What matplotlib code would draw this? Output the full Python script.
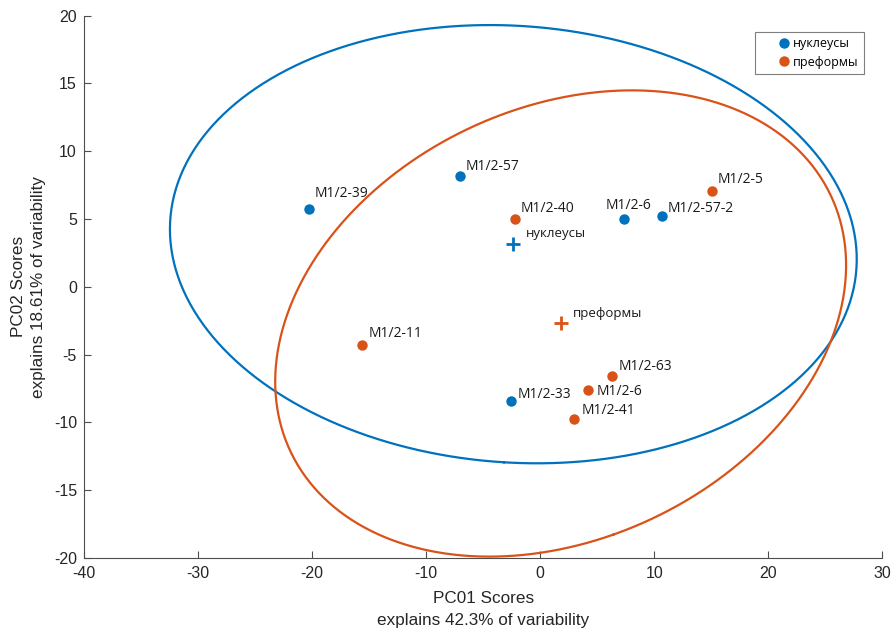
import numpy as np
import matplotlib
matplotlib.use("Agg")
import matplotlib.pyplot as plt

# -- Data (PC scores) ---------------------------------------------------------
nuc_names = ["M1/2-39", "M1/2-57", "M1/2-6", "M1/2-57-2", "M1/2-33"]
nuc_x = [-20.24, -7.0, 7.31, 10.7, -2.52]
nuc_y = [5.73, 8.19, 5.02, 5.24, -8.45]

pre_names = ["M1/2-5", "M1/2-40", "M1/2-11", "M1/2-63", "M1/2-6", "M1/2-41"]
pre_x = [15.11, -2.19, -15.59, 6.29, 4.21, 2.96]
pre_y = [7.06, 5.02, -4.32, -6.59, -7.64, -9.76]

group_labels = ["нуклеусы", "преформы"]
xticks = [-40, -30, -20, -10, 0, 10, 20, 30]
yticks = [-20, -15, -10, -5, 0, 5, 10, 15, 20]

# label placement (pixel offsets of text left/baseline from each point)
nuc_offs = [(5, 11.7), (5.4, 5.7), (-18, 9.4), (5.7, 4), (6.4, 3.6)]
pre_offs = [(5.4, 7.7), (5.7, 6.4), (6, 8), (6.6, 6), (8.7, -4.7), (8, 5)]

BLUE = "#0072BD"
ORANGE = "#D95319"
CHI2_95 = 5.991  # chi-square, 2 dof, 95%
TXT_FONT = ["Open Sans", "DejaVu Sans"]
PX = 0.72  # points per pixel at 100 dpi


def conf_ellipse(x, y, n=400):
    x = np.asarray(x)
    y = np.asarray(y)
    cov = np.cov(x, y)
    vals, vecs = np.linalg.eigh(cov)
    t = np.linspace(0, 2 * np.pi, n)
    circ = np.vstack([np.cos(t), np.sin(t)])
    pts = vecs @ (np.sqrt(vals * CHI2_95)[:, None] * circ)
    return pts[0] + x.mean(), pts[1] + y.mean()


plt.rcParams["font.family"] = ["Liberation Sans", "DejaVu Sans"]
plt.rcParams["axes.unicode_minus"] = False

fig = plt.figure(figsize=(8.93, 6.29), dpi=100)
ax = fig.add_axes([0.094, 0.113, 0.894, 0.862])

groups = [
    (nuc_names, nuc_x, nuc_y, nuc_offs, BLUE, group_labels[0]),
    (pre_names, pre_x, pre_y, pre_offs, ORANGE, group_labels[1]),
]

for names, gx, gy, offs, col, lab in groups:
    ex, ey = conf_ellipse(gx, gy)
    ax.plot(ex, ey, color=col, lw=1.6, zorder=2)

for names, gx, gy, offs, col, lab in groups:
    ax.plot(gx, gy, "o", ms=7.5, color=col, mec="none", label=lab, zorder=3)
    for nm, px, py, (dx, dy) in zip(names, gx, gy, offs):
        ax.annotate(nm, (px, py), xytext=(dx * PX, dy * PX),
                    textcoords="offset points", ha="left", va="baseline",
                    fontsize=10, color="#1a1a1a", family=TXT_FONT)
    cx, cy = np.mean(gx), np.mean(gy)
    ax.plot(cx, cy, "+", ms=10, mew=2, color=col, zorder=3)
    ax.annotate(lab, (cx, cy), xytext=(9, 5), textcoords="offset points",
                ha="left", va="baseline", fontsize=9.5, color="#1a1a1a",
                family=TXT_FONT)

ax.set_xlim(-40, 30)
ax.set_ylim(-20, 20)
ax.set_xticks(xticks)
ax.set_yticks(yticks)
ax.tick_params(direction="in", length=5, width=0.8, colors="#4d4d4d",
               labelcolor="#262626", labelsize=11.5)
ax.tick_params(axis="x", pad=6)
ax.tick_params(axis="y", pad=5)
for s in ["top", "right"]:
    ax.spines[s].set_visible(False)
for s in ["left", "bottom"]:
    ax.spines[s].set_color("#4d4d4d")
    ax.spines[s].set_linewidth(0.8)

ax.set_xlabel("PC01 Scores\nexplains 42.3% of variability", fontsize=12.3,
              color="#262626", linespacing=1.6, labelpad=7)
ax.set_ylabel("PC02 Scores\nexplains 18.61% of variability", fontsize=12.3,
              color="#262626", linespacing=1.4, labelpad=6)

leg = ax.legend(loc="upper right", bbox_to_anchor=(0.977, 0.970),
                borderaxespad=0, handlelength=3.84, handletextpad=-1.2,
                borderpad=0.4, labelspacing=0.45, fancybox=False,
                framealpha=1, edgecolor="#7f7f7f",
                prop={"family": TXT_FONT, "size": 9})
leg.get_frame().set_linewidth(0.8)

fig.savefig("out.png", dpi=100)
